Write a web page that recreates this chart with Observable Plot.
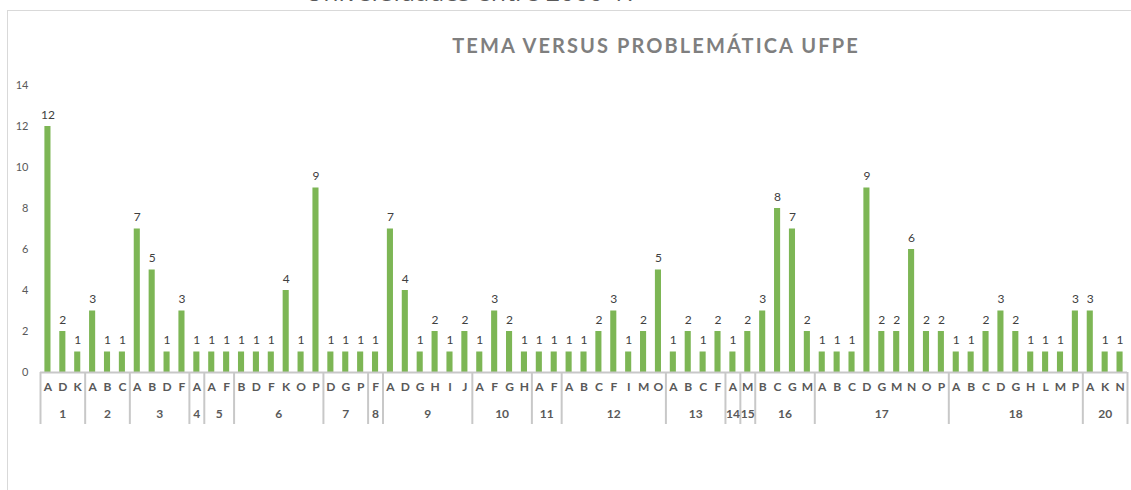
<!DOCTYPE html>
<html>
<head>
<meta charset="utf-8">
<script src="https://cdn.jsdelivr.net/npm/d3@7"></script>
<script src="https://cdn.jsdelivr.net/npm/@observablehq/plot@0.6"></script>
<style>
  html, body { margin: 0; padding: 0; background: #fff; overflow: hidden; }
  #wrap { position: relative; width: 1131px; height: 490px; overflow: hidden; }
  #frame { position: absolute; left: 7px; top: 10px; width: 1200px; height: 600px;
           border-left: 1px solid #d9d9d9; border-top: 1px solid #d9d9d9; }
  #sup { position: absolute; left: 305px; top: -26px; font: 25px "Open Sans", sans-serif; color: #595959; white-space: nowrap; }
  #title { position: absolute; left: 0; width: 1312px; top: 33px; text-align: center;
           font: bold 20px Lato, "Open Sans", sans-serif; letter-spacing: 2.1px; color: #7f7f7f; white-space: nowrap; }
  #chart { position: absolute; left: 0; top: 0; }
</style>
</head>
<body>
<div id="wrap">
  <div id="frame"></div>
  <div id="sup">Universidades entre 2000-17</div>
  <div id="title">TEMA VERSUS PROBLEMÁTICA UFPE</div>
  <div id="chart"></div>
</div>
<script>
// Groups (tema) and their problem letters / counts
const groups = ["1","2","3","4","5","6","7","8","9","10","11","12","13","14","15","16","17","18","20"];
const letters = [
  ["A","D","K"],
  ["A","B","C"],
  ["A","B","D","F"],
  ["A"],
  ["A","F"],
  ["B","D","F","K","O","P"],
  ["D","G","P"],
  ["F"],
  ["A","D","G","H","I","J"],
  ["A","F","G","H"],
  ["A","F"],
  ["A","B","C","F","I","M","O"],
  ["A","B","C","F"],
  ["A"],
  ["M"],
  ["B","C","G","M"],
  ["A","B","C","D","G","M","N","O","P"],
  ["A","B","C","D","G","H","L","M","P"],
  ["A","K","N"]
];
const values = [
  [12,2,1],
  [3,1,1],
  [7,5,1,3],
  [1],
  [1,1],
  [1,1,1,4,1,9],
  [1,1,1],
  [1],
  [7,4,1,2,1,2],
  [1,3,2,1],
  [1,1],
  [1,1,2,3,1,2,5],
  [1,2,1,2],
  [1],
  [2],
  [3,8,7,2],
  [1,1,1,9,2,2,6,2,2],
  [1,1,2,3,2,1,1,1,3],
  [3,1,1]
];
const yTicks = [0,2,4,6,8,10,12,14];

// Build flat table
const rows = [];
const groupRows = [];
let idx = 0;
groups.forEach((g, gi) => {
  const start = idx;
  letters[gi].forEach((l, li) => {
    rows.push({group: g, letter: l, value: values[gi][li], i: idx});
    idx++;
  });
  groupRows.push({group: g, start, end: idx, mid: (start + idx) / 2});
});
const total = idx;
const separators = groupRows.map(d => d.start).concat([total]);

const grey = "#595959";
const axisGrey = "#c8c8c8";

const plot = Plot.plot({
  width: 1131,
  height: 490,
  marginLeft: 40,
  marginRight: 4,
  marginTop: 85,
  marginBottom: 118,
  style: {fontFamily: "Lato, 'Open Sans', sans-serif", fontSize: "11px", color: grey, background: "transparent", overflow: "visible"},
  x: {type: "linear", domain: [0, total], axis: null},
  y: {domain: [0, 14], axis: null},
  marks: [
    Plot.axisY({ticks: yTicks, tickSize: 0, tickPadding: 12, label: null, fill: grey, fontSize: 11}),
    Plot.rectY(rows, {x1: "i", x2: d => d.i + 1, y: "value", insetLeft: 4.4, insetRight: 4.4, fill: "#7db655"}),
    Plot.text(rows, {x: d => d.i + 0.5, y: "value", text: d => String(d.value), lineAnchor: "bottom", dy: -8, fill: "#404040", fontSize: 12}),
    Plot.ruleY([0], {stroke: axisGrey, strokeWidth: 2}),
    Plot.ruleX(separators, {x: d => d, stroke: axisGrey, strokeWidth: 2, insetTop: 287, insetBottom: -52}),
    Plot.text(rows, {x: d => d.i + 0.5, text: "letter", frameAnchor: "bottom", dy: 18, fill: grey, fontWeight: "bold", fontSize: 12}),
    Plot.text(groupRows, {x: "mid", text: "group", frameAnchor: "bottom", dy: 45, fill: grey, fontWeight: "bold", fontSize: 12})
  ]
});
document.getElementById("chart").appendChild(plot);
</script>
</body>
</html>
